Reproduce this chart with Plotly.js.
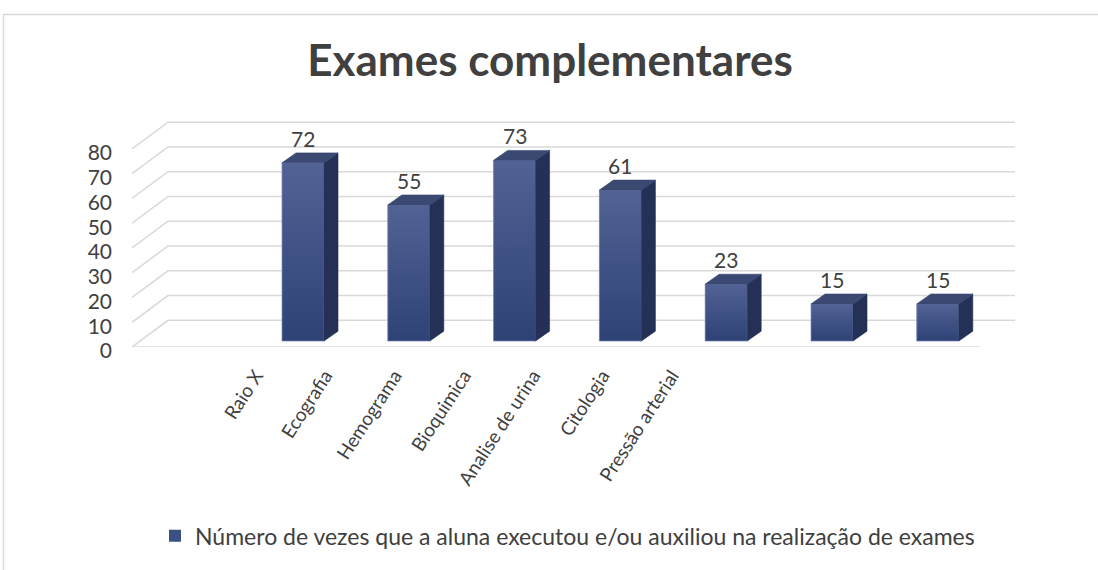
<!DOCTYPE html>
<html>
<head>
<meta charset="utf-8">
<script src="https://cdn.plot.ly/plotly-3.0.1.min.js"></script>
<style>
html,body{margin:0;padding:0;background:#fff;}
#chart{width:1098px;height:570px;}
</style>
</head>
<body>
<div id="chart"></div>
<script>
// ---- data ----
const categories = ["Raio X", "Ecografia", "Hemograma", "Bioquimica", "Analise de urina", "Citologia", "Pressão arterial"];
const values = [72, 55, 73, 61, 23, 15, 15];
const yTicks = [0, 10, 20, 30, 40, 50, 60, 70, 80];
const seriesName = "Número de vezes que a aluna executou e/ou auxiliou na realização de exames";
const titleText = "Exames complementares";

// ---- geometry (pixels) ----
const W = 1098, H = 570;
const M = {l: 132, r: 83, t: 110, b: 220.7};
const plotW = W - M.l - M.r, plotH = H - M.t - M.b;
const xRange = [-1.6163, 6.7297];
const yRange = [-2.4, 93.32];
const pxX = plotW / (xRange[1] - xRange[0]);
const pxY = plotH / (yRange[1] - yRange[0]);
const wallDX = 36 / pxX, wallDY = 27 / pxY;   // perspective depth of the wall
const barDX = 14 / pxX, barDY = 10 / pxY;     // bar depth
const barW = 0.397;
const floorFrontY = yRange[0];
const floorRightX = (980 - 303) / pxX;

const idx = categories.map((c, i) => i);
const FONT = "Lato, 'Open Sans', sans-serif";
const TXT = "#404040";
const FRONT_TOP = 'rgb(82,98,148)', FRONT_BOT = 'rgb(46,66,118)';
const SIDE = 'rgb(36,48,86)', TOP = 'rgb(58,72,114)';

// gridlines (back wall + side wall diagonals) as shapes below the data
const shapes = yTicks.map(t => ({
  type: 'path', xref: 'x', yref: 'y', layer: 'below',
  path: `M ${xRange[0]},${t + floorFrontY} L ${xRange[0] + wallDX},${t + floorFrontY + wallDY} L ${xRange[1]},${t + floorFrontY + wallDY}`,
  line: {color: '#d9d9d9', width: 1.6}
}));
shapes.push({type: 'line', xref: 'x', yref: 'y', layer: 'below',
  x0: xRange[0], x1: floorRightX, y0: floorFrontY, y1: floorFrontY,
  line: {color: '#d9d9d9', width: 1.6}});
shapes.push({type: 'rect', xref: 'paper', yref: 'paper', layer: 'below',
  x0: (3.5 - M.l) / plotW, x1: (1110 - M.l) / plotW,
  y0: (H - M.b - 590) / plotH, y1: (H - M.b - 13.5) / plotH,
  line: {color: '#d9d9d9', width: 1.5}, fillcolor: 'rgba(0,0,0,0)'});

const sx = [], sy = [], tx = [], ty = [];
idx.forEach((i, k) => {
  const v = values[k];
  const r = i + barW / 2, l = i - barW / 2;
  sx.push(r, r + barDX, r + barDX, r, r, null);
  sy.push(0, barDY, v + barDY, v, 0, null);
  tx.push(l, r, r + barDX, l + barDX, l, null);
  ty.push(v, v, v + barDY, v + barDY, v, null);
});

const traces = [
  {type: 'bar', x: idx, y: values, width: barW, name: seriesName,
   marker: {color: 'rgb(62,80,131)'},
   xaxis: 'x', yaxis: 'y', hoverinfo: 'skip'}
];
// gradient front faces (one per bar so each gets its own gradient)
idx.forEach((i, k) => {
  const l = i - barW / 2, r = i + barW / 2, v = values[k];
  traces.push({type: 'scatter', mode: 'lines', x: [l, r, r, l, l], y: [0, 0, v, v, 0],
    fill: 'toself', fillgradient: {type: 'vertical', colorscale: [[0, FRONT_BOT], [1, FRONT_TOP]]},
    line: {width: 0.8, color: 'rgba(125,140,185,0.9)'}, hoverinfo: 'skip', showlegend: false});
});
traces.push(
  {type: 'scatter', mode: 'lines', x: sx, y: sy, fill: 'toself', fillcolor: SIDE,
   line: {width: 0.6, color: SIDE}, hoverinfo: 'skip', showlegend: false},
  {type: 'scatter', mode: 'lines', x: tx, y: ty, fill: 'toself', fillcolor: TOP,
   line: {width: 0.6, color: TOP}, hoverinfo: 'skip', showlegend: false},
  {type: 'scatter', mode: 'markers', x: categories, y: values.map(() => null),
   xaxis: 'x2', yaxis: 'y', hoverinfo: 'skip', showlegend: false}
);

const annotations = idx.map((i, k) => ({
  x: i, y: values[k] + barDY, xref: 'x', yref: 'y', text: String(values[k]),
  showarrow: false, yanchor: 'bottom', yshift: 0,
  font: {family: FONT, size: 21, color: TXT}
}));

const labelP0 = 256, labelStep = 69.3;
const x2span = plotW / labelStep;
const x2r0 = -(labelP0 - M.l) / labelStep;

const layout = {
  width: W, height: H,
  margin: M,
  paper_bgcolor: '#fff', plot_bgcolor: 'rgba(0,0,0,0)',
  font: {family: FONT, color: TXT},
  title: {text: titleText, x: 550 / W, xref: 'container', xanchor: 'center',
          y: 1 - 61 / H, yref: 'container', yanchor: 'middle',
          font: {family: FONT, size: 44, weight: 'bold', color: TXT}},
  xaxis: {range: xRange, showticklabels: false, showgrid: false, zeroline: false, showline: false, fixedrange: true},
  xaxis2: {type: 'category', overlaying: 'x', anchor: 'y', side: 'bottom',
           categoryarray: categories, categoryorder: 'array',
           range: [x2r0, x2r0 + x2span], tickangle: -57, ticks: '',
           showgrid: false, zeroline: false, showline: false,
           ticklabelstandoff: 13,
           tickfont: {family: FONT, size: 19, color: TXT}},
  yaxis: {range: yRange, tickvals: yTicks, showgrid: false, zeroline: false, showline: false,
          ticks: '', ticklabelshift: 10, ticklabelstandoff: 19,
          tickfont: {family: FONT, size: 21, color: TXT}},
  showlegend: true,
  legend: {orientation: 'h', x: (169 - 14 - M.l) / plotW, xanchor: 'left',
           y: (H - M.b - 540) / plotH, yanchor: 'middle',
           font: {family: FONT, size: 23, color: TXT}},
  annotations: annotations,
  shapes: shapes
};

Plotly.newPlot('chart', traces, layout, {displayModeBar: false, staticPlot: true});
</script>
</body>
</html>
